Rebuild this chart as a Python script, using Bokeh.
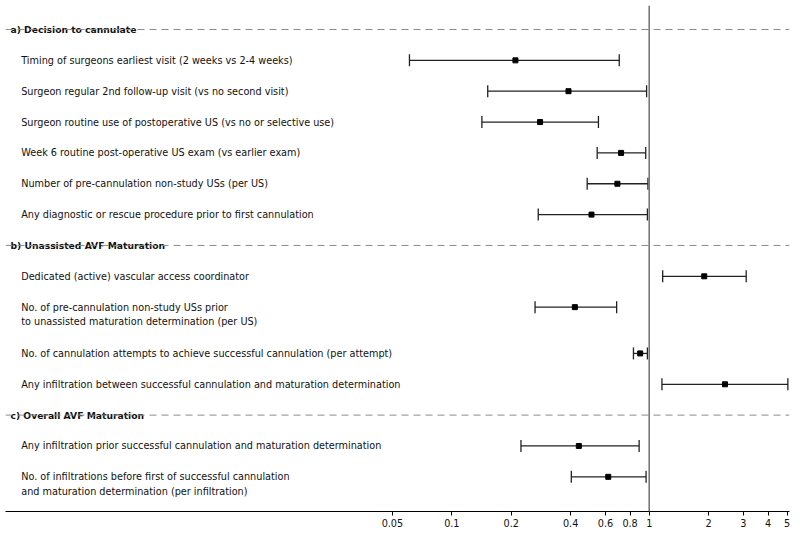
from bokeh.plotting import figure
from bokeh.models import (ColumnDataSource, Range1d, FixedTicker, CustomJSTickFormatter,
                          Span, Whisker, TeeHead)
from bokeh.embed import file_html
from bokeh.resources import INLINE
from bokeh.core.properties import value

# ---- data ----
section_titles = ["a) Decision to cannulate", "b) Unassisted AVF Maturation", "c) Overall AVF Maturation"]
section_rows = [0, 7, 12.5]

labels = [
    "Timing of surgeons earliest visit (2 weeks vs 2-4 weeks)",
    "Surgeon regular 2nd follow-up visit (vs no second visit)",
    "Surgeon routine use of postoperative US (vs no or selective use)",
    "Week 6 routine post-operative US exam (vs earlier exam)",
    "Number of pre-cannulation non-study USs (per US)",
    "Any diagnostic or rescue procedure prior to first cannulation",
    "Dedicated (active) vascular access coordinator",
    "No. of pre-cannulation non-study USs prior\nto unassisted maturation determination (per US)",
    "No. of cannulation attempts to achieve successful cannulation (per attempt)",
    "Any infiltration between successful cannulation and maturation determination",
    "Any infiltration prior successful cannulation and maturation determination",
    "No. of infiltrations before first of successful cannulation\nand maturation determination (per infiltration)",
]
rows = [1, 2, 3, 4, 5, 6, 8, 9, 10.5, 11.5, 13.5, 14.5]
estimate = [0.21, 0.39, 0.28, 0.72, 0.69, 0.51, 1.90, 0.42, 0.90, 2.42, 0.44, 0.62]
lower    = [0.061, 0.152, 0.142, 0.545, 0.485, 0.274, 1.17, 0.264, 0.832, 1.16, 0.224, 0.403]
upper    = [0.705, 0.97, 0.553, 0.96, 0.985, 0.979, 3.10, 0.684, 0.979, 5.04, 0.889, 0.964]

tick_values = [0.05, 0.1, 0.2, 0.4, 0.6, 0.8, 1, 2, 3, 4, 5]

FONT = "DejaVu Sans"
X_MIN, X_MAX = 0.000548, 5.137

p = figure(width=800, height=536, x_axis_type="log",
           x_range=Range1d(X_MIN, X_MAX), y_range=Range1d(15.624, -0.778),
           output_backend="svg", toolbar_location=None,
           min_border_left=5, min_border_right=11, min_border_top=5, min_border_bottom=25)
p.outline_line_color = None
p.grid.visible = False
p.yaxis.visible = False
p.background_fill_color = "white"

# section dashed lines
for r in section_rows:
    p.add_layout(Span(location=r, dimension="width", line_color="#8c8c8c",
                      line_dash="7 5", line_width=1))

# reference line at 1
p.add_layout(Span(location=1, dimension="height", line_color="#777777", line_width=1.6))

# confidence intervals
src = ColumnDataSource(dict(y=rows, est=estimate, lo=lower, hi=upper))
w = Whisker(source=src, base="y", lower="lo", upper="hi", dimension="width",
            line_color="#222222", line_width=1.3,
            lower_head=TeeHead(size=12, line_color="#222222", line_width=1.3),
            upper_head=TeeHead(size=12, line_color="#222222", line_width=1.3))
p.add_layout(w)
p.scatter("est", "y", source=src, marker="square", size=5, color="black")

# label texts (multi-line labels split into separate lines)
lx, ly, lt, loff = [], [], [], []
for lab, r in zip(labels, rows):
    for i, part in enumerate(lab.split("\n")):
        lx.append(X_MIN)
        ly.append(r)
        lt.append(part)
        loff.append(i * 14.5)
lsrc = ColumnDataSource(dict(x=lx, y=ly, t=lt, off=loff))
p.text("x", "y", text="t", source=lsrc, x_offset=15.7, y_offset="off",
       text_font=value(FONT), text_font_size="9.7px", text_color="#111111",
       text_baseline="middle", text_align="left")

hsrc = ColumnDataSource(dict(x=[X_MIN] * len(section_titles), y=section_rows, t=section_titles))
p.text("x", "y", text="t", source=hsrc, x_offset=5,
       text_font=value(FONT), text_font_size="9.2px", text_font_style="bold",
       text_color="#111111", text_baseline="middle", text_align="left")

# x axis
ax = p.xaxis[0]
ax.ticker = FixedTicker(ticks=tick_values)
ax.formatter = CustomJSTickFormatter(code="return tick.toString();")
ax.minor_tick_line_color = None
ax.major_tick_in = 0
ax.major_tick_out = 4
ax.major_label_standoff = 3
ax.axis_line_color = "black"
ax.axis_line_width = 1.2
ax.major_tick_line_color = "black"
ax.major_label_text_font = FONT
ax.major_label_text_font_size = "9.7px"
ax.major_label_text_color = "#111111"

open("out.html", "w").write(file_html(p, INLINE))
